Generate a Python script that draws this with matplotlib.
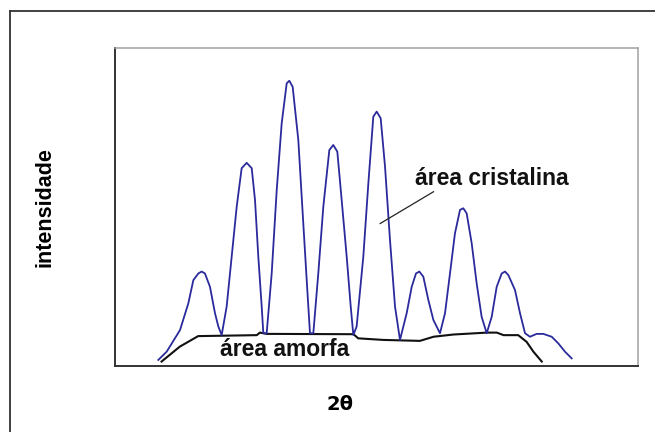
import matplotlib
matplotlib.use("Agg")
import matplotlib.pyplot as plt
from matplotlib.lines import Line2D

# Crystalline diffraction profile (arbitrary units, 0-100)
x_crist = [8.28, 9.88, 12.43, 14.02, 14.98, 15.93, 16.57, 17.2, 18.16, 19.12, 19.76, 20.4,
           21.35, 22.31, 23.27, 24.22, 25.18, 26.14, 26.77, 27.4, 28.05, 28.36,
           29.0, 29.96, 30.92, 31.87, 32.83, 33.33, 33.97, 35.05, 36.0, 36.77, 37.28,
           37.92, 38.87, 39.83, 40.98, 41.74, 42.51, 43.34, 44.3, 45.07, 45.57,
           46.2, 47.48, 48.44, 49.39, 50.03, 50.8, 51.63, 52.58, 53.54, 54.49,
           55.77, 56.73, 57.55, 58.19, 58.95, 59.91, 60.87, 62.14,
           63.1, 64.05, 65.0, 65.97, 66.6, 67.24, 68.2, 69.15, 70.1, 71.07,
           72.03, 72.98, 73.94, 74.57, 75.21, 76.48, 77.44, 78.4,
           79.35, 80.62, 81.9, 83.5, 84.77, 86.04, 87.32]
y_crist = [1.9, 4.5, 11.3, 19.7, 27.0, 29.1, 29.7, 29.1, 24.9, 16.6, 12.4, 9.75,
           18.7, 34.4, 50.1, 62.2, 63.9, 62.2, 52.2, 34.4, 18.7, 10.3,
           10.3, 29.1, 55.3, 76.3, 88.9, 89.7, 87.8, 71.1, 44.9, 23.9, 10.3,
           10.3, 29.1, 50.1, 67.9, 69.5, 67.4, 52.2, 34.4, 18.7, 9.75,
           12.4, 34.4, 57.4, 78.4, 80.0, 77.9, 62.7, 39.6, 18.7, 8.2,
           16.6, 24.9, 29.1, 29.7, 28.1, 20.8, 14.5, 10.3,
           16.6, 29.1, 41.7, 49.1, 49.6, 48.0, 38.6, 26.0, 15.5, 10.3,
           15.5, 24.9, 29.1, 29.7, 28.6, 23.9, 16.6, 10.3,
           9.2, 10.1, 10.1, 9.2, 7.1, 4.5, 2.4]

# Amorphous halo (baseline)
x_amorf = [8.9, 12.4, 15.9, 27.1, 27.7, 29.0, 45.6, 46.5, 51.3, 58.3, 60.9, 64.7,
           71.1, 73.0, 74.3, 77.1, 78.7, 80.0, 81.6]
y_amorf = [1.4, 6.1, 9.4, 9.7, 10.5, 10.1, 10.0, 8.7, 8.2, 7.9, 9.2, 9.9,
           10.5, 10.5, 9.7, 9.7, 7.6, 4.5, 1.4]

# Leader line for "área cristalina"
x_leader = [50.7, 60.9]
y_leader = [44.8, 54.8]

label_cristalina = "área cristalina"
label_amorfa = "área amorfa"
xlabel = "2θ"
ylabel = "intensidade"

plt.rcParams['font.family'] = ['Liberation Sans', 'DejaVu Sans']

fig = plt.figure(figsize=(6.55, 4.32), dpi=100)
fig.patch.set_facecolor('white')

# outer chart frame (left and top visible)
fig.add_artist(Line2D([9.5 / 655, 9.5 / 655], [0, 1 - 11 / 432], transform=fig.transFigure,
                      color='#333333', lw=1.3))
fig.add_artist(Line2D([9.5 / 655, 1.0], [1 - 11 / 432, 1 - 11 / 432], transform=fig.transFigure,
                      color='#333333', lw=1.3))

ax = fig.add_axes([115 / 655, 66 / 432, 523 / 655, 318 / 432])
ax.set_xlim(0, 100)
ax.set_ylim(0, 100)
ax.set_xticks([])
ax.set_yticks([])
ax.spines['left'].set_color('#333333')
ax.spines['bottom'].set_color('#333333')
ax.spines['left'].set_linewidth(1.4)
ax.spines['bottom'].set_linewidth(1.4)
ax.spines['top'].set_color('#a0a0a0')
ax.spines['right'].set_color('#a0a0a0')
ax.spines['top'].set_linewidth(1.1)
ax.spines['right'].set_linewidth(1.1)

ax.plot(x_amorf, y_amorf, color='#111111', lw=1.5, zorder=2)
ax.plot(x_crist, y_crist, color='#2a2a9c', lw=1.3, zorder=3)
ax.plot(x_leader, y_leader, color='#222222', lw=0.9, zorder=3)

ax.text(57.4, 59.1, label_cristalina, fontsize=16.5, fontweight='bold', ha='left', va='center',
        color='#111111')
ax.text(20.1, 5.3, label_amorfa, fontsize=16.5, fontweight='bold', ha='left', va='center',
        color='#111111')

fig.text(340 / 655, 1 - 405 / 432, xlabel, fontsize=14, fontweight='bold', ha='center', va='center',
         family=['DejaVu Sans'])
fig.text(45 / 655, 1 - 207 / 432, ylabel, fontsize=15.5, fontweight='bold', ha='center', va='center',
         rotation=90)

fig.savefig('out.png', dpi=100)
